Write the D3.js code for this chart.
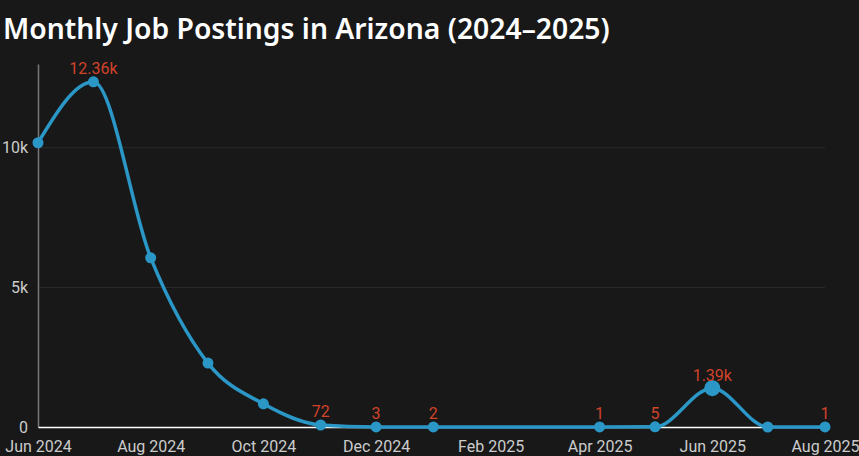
<!DOCTYPE html>
<html>
<head>
<meta charset="utf-8">
<script src="https://cdn.jsdelivr.net/npm/d3@7"></script>
<style>
  html, body { margin: 0; padding: 0; background: #181818; }
  svg { display: block; }
</style>
</head>
<body>
<div id="chart"></div>
<script>
// months with postings (Feb and Mar 2025 have no data)
var months = ['2024-06', '2024-07', '2024-08', '2024-09', '2024-10', '2024-11', '2024-12',
              '2025-01', '2025-04', '2025-05', '2025-06', '2025-07', '2025-08'];
var postings = [10180, 12360, 6060, 2290, 830, 72, 3, 2, 1, 5, 1390, 0, 1];
var pointLabels = ['', '12.36k', '', '', '', '72', '3', '2', '1', '5', '1.39k', '', '1'];
var xTickMonths = ['2024-06', '2024-08', '2024-10', '2024-12', '2025-02', '2025-04', '2025-06', '2025-08'];
var yTicks = [0, 5000, 10000];
var yTickLabels = ['0', '5k', '10k'];
var highlightMonth = '2025-06';

function drawLineChart() {
    var width = 859, height = 456;
    var margin = { top: 64, right: 34, bottom: 29, left: 38 };
    var parse = d3.timeParse('%Y-%m');

    var data = months.map(function (m, i) {
        return { month: m, date: parse(m), value: postings[i], label: pointLabels[i] };
    });

    var svg = d3.select('#chart')
        .append('svg')
        .attr('width', width)
        .attr('height', height);

    svg.append('text')
        .attr('x', 3)
        .attr('y', 39)
        .attr('fill', '#ffffff')
        .style('font-family', '"Noto Sans", sans-serif')
        .style('font-weight', 600)
        .style('font-size', '28.3px')
        .text('Monthly Job Postings in Arizona (2024–2025)');

    var x = d3.scaleTime()
        .domain([parse('2024-06'), parse('2025-08')])
        .range([margin.left, width - margin.right]);

    var y = d3.scaleLinear()
        .domain([0, 13000])
        .range([height - margin.bottom, margin.top]);

    // horizontal grid
    svg.append('g')
        .selectAll('line')
        .data(yTicks.slice(1))
        .enter()
        .append('line')
        .attr('x1', margin.left)
        .attr('x2', width - margin.right)
        .attr('y1', function (d) { return y(d); })
        .attr('y2', function (d) { return y(d); })
        .attr('stroke', '#2c2c2c')
        .attr('stroke-width', 1);

    // y axis
    var yAxis = svg.append('g')
        .attr('transform', 'translate(' + margin.left + ',0)')
        .call(d3.axisLeft(y)
            .tickValues(yTicks)
            .tickFormat(function (d, i) { return yTickLabels[i]; })
            .tickSize(0)
            .tickPadding(10));
    yAxis.select('.domain').attr('stroke', '#777').attr('stroke-width', 1.5);
    yAxis.selectAll('text')
        .attr('fill', '#cccccc')
        .style('font-family', 'Roboto, sans-serif')
        .style('font-size', '16px');

    // x axis
    var xAxis = svg.append('g')
        .attr('transform', 'translate(0,' + y(0) + ')')
        .call(d3.axisBottom(x)
            .tickValues(xTickMonths.map(parse))
            .tickFormat(d3.timeFormat('%b %Y'))
            .tickSize(0)
            .tickPadding(14));
    xAxis.select('.domain').attr('stroke', '#ffffff').attr('stroke-width', 1.5);
    xAxis.selectAll('text')
        .attr('fill', '#cccccc')
        .style('font-family', 'Roboto, sans-serif')
        .style('font-size', '16px');

    var line = d3.line()
        .x(function (d) { return x(d.date); })
        .y(function (d) { return y(d.value); })
        .curve(d3.curveMonotoneX);

    svg.append('path')
        .datum(data)
        .attr('d', line)
        .attr('fill', 'none')
        .attr('stroke', '#2b97c6')
        .attr('stroke-width', 3.5);

    svg.append('g')
        .selectAll('circle')
        .data(data)
        .enter()
        .append('circle')
        .attr('cx', function (d) { return x(d.date); })
        .attr('cy', function (d) { return y(d.value); })
        .attr('r', function (d) { return d.month === highlightMonth ? 8 : 5.5; })
        .attr('fill', '#2b97c6');

    svg.append('g')
        .selectAll('text')
        .data(data.filter(function (d) { return d.label !== ''; }))
        .enter()
        .append('text')
        .attr('x', function (d) { return x(d.date); })
        .attr('y', function (d) { return y(d.value) - (d.month === highlightMonth ? 7 : 8); })
        .attr('text-anchor', 'middle')
        .attr('fill', '#d2432a')
        .style('font-family', 'Roboto, sans-serif')
        .style('font-size', '16px')
        .text(function (d) { return d.label; });
}

window.addEventListener('load', function () {
    drawLineChart();
});
</script>
</body>
</html>
